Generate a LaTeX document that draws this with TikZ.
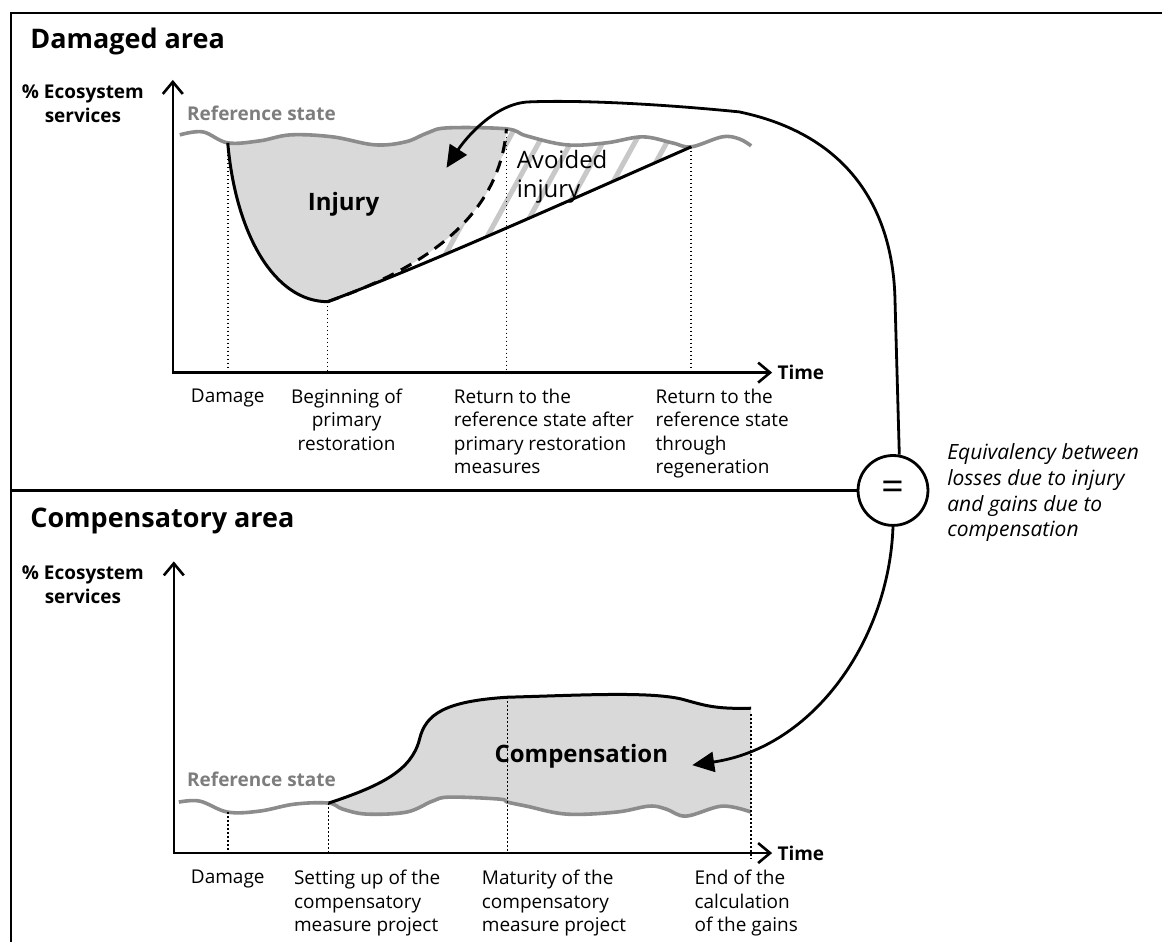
\documentclass[tikz,border=0pt]{standalone}
\usepackage{fontspec}
\setmainfont{Open Sans}
\usepackage{tikz}
\usetikzlibrary{arrows.meta}

\definecolor{refgray}{RGB}{140,140,140}
\definecolor{fillgray}{RGB}{217,217,217}
\definecolor{hatchgray}{RGB}{200,200,200}
\definecolor{labelgray}{RGB}{125,125,125}

\begin{document}
\begin{tikzpicture}[x=0.5pt, y=-0.5pt,
    boxline/.style={line width=1.3pt},
    axisline/.style={line width=1.3pt, line join=miter,
        {Straight Barb[length=6pt,width=10pt]}-{Straight Barb[length=6pt,width=10pt]}},
    refline/.style={draw=refgray, line width=1.8pt, line join=round},
    curve/.style={line width=1.5pt, line join=round},
    dashcurve/.style={curve, dash pattern=on 6pt off 4pt},
    dropline/.style={line width=0.8pt, dash pattern=on 0.8pt off 1.2pt},
    hatchline/.style={draw=hatchgray, line width=2.5pt},
    eqarrow/.style={line width=1.4pt, -{Triangle[length=11pt,width=10pt]}},
    eqnode/.style={circle, draw, line width=1.4pt, minimum size=35pt, inner sep=0pt,
        font=\fontsize{20}{20}\selectfont},
    areatitle/.style={font=\fontsize{13.5}{16}\selectfont\bfseries, anchor=base west, inner sep=0pt},
    axislabel/.style={font=\fontsize{9.5}{12}\selectfont\bfseries, align=center, inner sep=0pt},
    reflabel/.style={font=\fontsize{9.5}{12}\selectfont\bfseries, text=labelgray, anchor=base west, inner sep=0pt},
    ticktext/.style={font=\fontsize{9.5}{11.7}\selectfont, align=center, anchor=north, inner sep=0pt},
    areatext/.style={font=\fontsize{12}{14.5}\selectfont, inner sep=0pt},
    eqtext/.style={font=\fontsize{10.5}{12.85}\selectfont\itshape, align=left, anchor=north west, inner sep=0pt}]

    \fill[white] (0,0) rectangle (1163,943);

    % Key points {damage, restoration, return, regeneration, etc}
    \coordinate (o1)    at (173,373);
    \coordinate (ytop1) at (173,80);
    \coordinate (dmg1)  at (228,143);
    \coordinate (beg1)  at (328,302);
    \coordinate (ret1)  at (507,129);
    \coordinate (reg1)  at (692,147);

    \coordinate (o2)    at (174,854);
    \coordinate (ytop2) at (174,562);
    \coordinate (dmg2)  at (228,813);
    \coordinate (set2)  at (329,804);
    \coordinate (mat2)  at (508,698);
    \coordinate (end2)  at (752,709);

    \coordinate (injtip)  at (447,168);
    \coordinate (comptip) at (693,766);

    % Damaged area
    \fill[fillgray] plot[smooth, tension=0.6] coordinates {(228,143) (260,141) (291,135) (333,137)
        (375,145) (406,142) (428,133) (448,128) (507,129)}
        .. controls (500,220) and (420,270) .. (beg1)
        .. controls (275,302) and (236,235) .. (dmg1) -- cycle;
    \begin{scope}
        \clip plot[smooth, tension=0.6] coordinates {(507,129) (527,136) (567,145) (607,143)
            (643,137) (673,143) (692,147)}
            .. controls (560,205) and (420,268) .. (beg1)
            .. controls (420,270) and (500,220) .. (ret1) -- cycle;
        \foreach \s in {250,282,...,720}
            \draw[hatchline] (\s,320) -- ++(110,-200);
    \end{scope}
    \draw[refline] plot[smooth, tension=0.6] coordinates {(180,135) (203,132) (228,143) (260,141)
        (291,135) (333,137) (375,145) (406,142) (428,133) (448,128) (507,129) (527,136) (567,145)
        (607,143) (643,137) (673,143) (692,147) (723,137) (740,139) (752,146)};
    \draw[curve] (dmg1) .. controls (236,235) and (275,302) .. (beg1)
        .. controls (420,268) and (560,205) .. (reg1);
    \draw[dashcurve] (beg1) .. controls (420,270) and (500,220) .. (ret1);

    \draw[dropline] (dmg1) -- (dmg1 |- o1);
    \draw[dropline] (beg1) -- (beg1 |- o1);
    \draw[dropline] ([yshift=-4pt]ret1) -- (ret1 |- o1);
    \draw[dropline] (reg1) -- (reg1 |- o1);

    \node[axislabel, anchor=west, inner xsep=2.5pt] (time1) at (773,373) {Time};
    \draw[axisline] (ytop1) |- (time1.west);

    \node[areatitle] (dmgtitle) at (30,49) {Damaged area};
    \node[axislabel, anchor=north] (ylab1) at (83,84) {\% Ecosystem\\services};
    \node[reflabel] (ref1) at (187,121) {Reference state};
    \node[areatext, font=\fontsize{12}{14.5}\selectfont\bfseries, anchor=base] (injury) at (344,211) {Injury};
    \node[areatext, align=left, anchor=north west] (avoided) at (517,150) {Avoided\\injury};

    \node[ticktext] (lbl1a) at (228,389) {Damage};
    \node[ticktext] (lbl1b) at (347,389) {Beginning of\\primary\\restoration};
    \node[ticktext, align=left, anchor=north west] (lbl1c) at (454,389)
        {Return to the\\reference state after\\primary restoration\\measures};
    \node[ticktext, align=left, anchor=north west] (lbl1d) at (656,389)
        {Return to the\\reference state\\through\\regeneration};

    % Compensatory area
    \fill[fillgray] (set2) .. controls (380,787) and (412,772) .. (420,740)
        .. controls (426,715) and (445,702) .. (mat2)
        .. controls (580,696) and (650,692) .. (683,700)
        .. controls (705,706) and (715,710) .. (end2)
        -- plot[smooth, tension=0.6] coordinates {(752,813) (723,807) (687,817) (667,810) (650,807)
        (617,813) (567,815) (527,807) (508,803) (500,800) (450,798) (433,802) (407,813) (367,815)
        (343,810) (329,804)} -- cycle;
    \draw[refline] plot[smooth, tension=0.6] coordinates {(179,803) (200,802) (228,813) (260,812)
        (295,805) (329,804) (343,810) (367,815) (407,813) (433,802) (450,798) (500,800) (508,803)
        (527,807) (567,815) (617,813) (650,807) (667,810) (687,817) (723,807) (752,813)};
    \draw[curve] (set2) .. controls (380,787) and (412,772) .. (420,740)
        .. controls (426,715) and (445,702) .. (mat2)
        .. controls (580,696) and (650,692) .. (683,700)
        .. controls (705,706) and (715,710) .. (end2);

    \draw[dropline] (dmg2) -- (dmg2 |- o2);
    \draw[dropline] (set2) -- (set2 |- o2);
    \draw[dropline] (mat2) -- (mat2 |- o2);
    \draw[dropline] ([yshift=-3pt]end2) -- ([yshift=-3pt]end2 |- o2);

    \node[axislabel, anchor=west, inner xsep=2.5pt] (time2) at (773,854) {Time};
    \draw[axisline] (ytop2) |- (time2.west);

    \node[areatitle] (comptitle) at (30,528) {Compensatory area};
    \node[axislabel, anchor=north] (ylab2) at (83,566) {\% Ecosystem\\services};
    \node[reflabel] (ref2) at (187,787) {Reference state};
    \node[areatext, font=\fontsize{12}{14.5}\selectfont\bfseries, anchor=base] (compensation) at (582,763) {Compensation};

    \node[ticktext] (lbl2a) at (228,871) {Damage};
    \node[ticktext, align=left, anchor=north west] (lbl2b) at (294,871)
        {Setting up of the\\compensatory\\measure project};
    \node[ticktext, align=left, anchor=north west] (lbl2c) at (482,871)
        {Maturity of the\\compensatory\\measure project};
    \node[ticktext, align=left, anchor=north west] (lbl2d) at (695,871)
        {End of the\\calculation\\of the gains};

    % Frame and equivalency
    \node[eqnode] (eq) at (894,491) {=};
    \node[eqtext] (equiv) at (948,444)
        {Equivalency between\\losses due to injury\\and gains due to\\compensation};
    \draw[boxline] (1163,13) -- (11,13) -- (11,943);
    \draw[boxline] (11,491) -- (eq.west);

    \draw[eqarrow] (eq.80) -- (896,300) .. controls (894,210) and (850,135) .. (740,112)
        .. controls (660,104) and (580,100) .. (530,102)
        .. controls (495,103) and (465,140) .. (injtip);
    \draw[eqarrow] (eq.south) .. controls (890,640) and (815,748) .. (comptip);

\end{tikzpicture}
\end{document}
